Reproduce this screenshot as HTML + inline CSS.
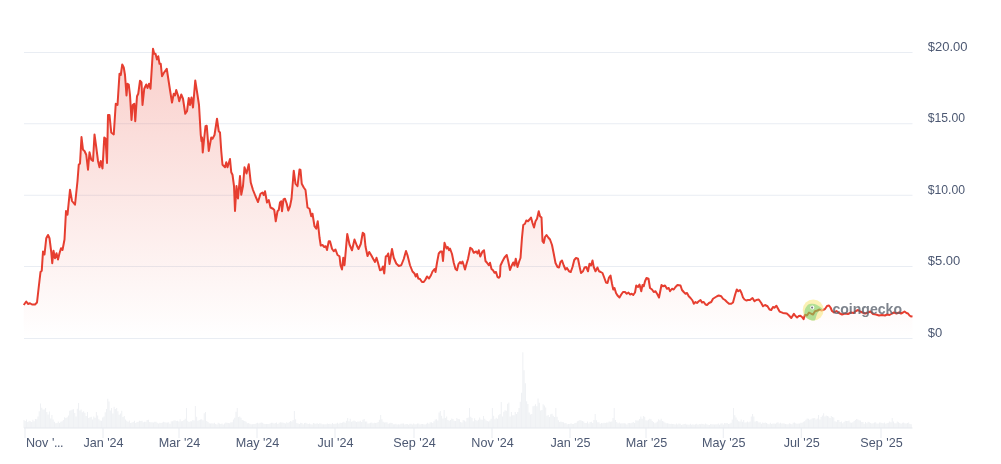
<!DOCTYPE html>
<html lang="en"><head><meta charset="utf-8"><title>Price chart</title>
<style>
html,body{margin:0;padding:0;background:#fff;}
body{width:1001px;height:464px;overflow:hidden;font-family:"Liberation Sans",sans-serif;}
svg{display:block}
.yl,.xl{font-family:"Liberation Sans",sans-serif;font-size:12.6px;fill:#4c5872;}
.yl{font-size:13px;}
</style></head><body>
<svg width="1001" height="464" viewBox="0 0 1001 464">
<defs><linearGradient id="g" x1="0" y1="48" x2="0" y2="338.5" gradientUnits="userSpaceOnUse"><stop offset="0" stop-color="#e8402f" stop-opacity="0.25"/><stop offset="1" stop-color="#e8402f" stop-opacity="0.0"/></linearGradient></defs>
<rect width="1001" height="464" fill="#ffffff"/>
<path d="M24 52.5H912.5" stroke="#e9edf3" stroke-width="1" fill="none"/>
<path d="M24 123.75H912.5" stroke="#e9edf3" stroke-width="1" fill="none"/>
<path d="M24 195.25H912.5" stroke="#e9edf3" stroke-width="1" fill="none"/>
<path d="M24 266.5H912.5" stroke="#e9edf3" stroke-width="1" fill="none"/>
<path d="M24 338.5H912.5" stroke="#e9edf3" stroke-width="1" fill="none"/>
<path d="M24.00 428v-7.9M25.27 428v-6.9M26.54 428v-8.5M27.81 428v-6.1M29.08 428v-7.3M30.35 428v-6.7M31.62 428v-6.1M32.89 428v-8.2M34.15 428v-6.8M35.42 428v-8.9M36.69 428v-8.8M37.96 428v-11.4M39.23 428v-16.8M40.50 428v-24.5M41.77 428v-20.3M43.04 428v-18.6M44.31 428v-18.6M45.58 428v-20.1M46.85 428v-15.9M48.12 428v-13.6M49.39 428v-16.4M50.66 428v-9.5M51.92 428v-13.1M53.19 428v-8.4M54.46 428v-6.3M55.73 428v-4.8M57.00 428v-5.0M58.27 428v-6.4M59.54 428v-5.0M60.81 428v-6.2M62.08 428v-6.7M63.35 428v-7.9M64.62 428v-10.7M65.89 428v-9.9M67.16 428v-10.7M68.43 428v-12.6M69.69 428v-17.2M70.96 428v-17.8M72.23 428v-18.6M73.50 428v-18.7M74.77 428v-14.9M76.04 428v-11.6M77.31 428v-19.2M78.58 428v-25.0M79.85 428v-17.6M81.12 428v-18.6M82.39 428v-15.7M83.66 428v-16.8M84.93 428v-15.3M86.20 428v-11.9M87.46 428v-16.0M88.73 428v-9.9M90.00 428v-10.7M91.27 428v-11.3M92.54 428v-8.4M93.81 428v-11.6M95.08 428v-10.2M96.35 428v-16.0M97.62 428v-12.5M98.89 428v-8.7M100.16 428v-7.4M101.43 428v-7.2M102.70 428v-10.4M103.97 428v-11.6M105.23 428v-15.8M106.50 428v-18.9M107.77 428v-29.2M109.04 428v-26.6M110.31 428v-17.6M111.58 428v-19.9M112.85 428v-14.6M114.12 428v-21.2M115.39 428v-19.0M116.66 428v-20.1M117.93 428v-16.8M119.20 428v-13.3M120.47 428v-14.5M121.74 428v-17.3M123.00 428v-11.0M124.27 428v-12.1M125.54 428v-8.6M126.81 428v-7.2M128.08 428v-6.2M129.35 428v-7.5M130.62 428v-5.1M131.89 428v-5.5M133.16 428v-5.9M134.43 428v-7.2M135.70 428v-5.0M136.97 428v-6.0M138.24 428v-6.3M139.50 428v-7.2M140.77 428v-7.1M142.04 428v-7.3M143.31 428v-5.8M144.58 428v-6.3M145.85 428v-6.2M147.12 428v-7.9M148.39 428v-8.3M149.66 428v-5.9M150.93 428v-5.8M152.20 428v-5.8M153.47 428v-5.6M154.74 428v-6.2M156.01 428v-6.2M157.27 428v-5.2M158.54 428v-4.4M159.81 428v-5.2M161.08 428v-5.0M162.35 428v-5.5M163.62 428v-6.3M164.89 428v-5.8M166.16 428v-5.4M167.43 428v-5.6M168.70 428v-5.7M169.97 428v-4.3M171.24 428v-6.7M172.51 428v-6.8M173.78 428v-7.6M175.04 428v-7.8M176.31 428v-6.9M177.58 428v-7.3M178.85 428v-6.5M180.12 428v-8.8M181.39 428v-6.8M182.66 428v-7.1M183.93 428v-7.9M185.20 428v-9.3M186.47 428v-20.0M187.74 428v-7.2M189.01 428v-6.1M190.28 428v-6.8M191.55 428v-6.7M192.81 428v-7.9M194.08 428v-7.4M195.35 428v-22.0M196.62 428v-11.2M197.89 428v-7.3M199.16 428v-7.9M200.43 428v-8.4M201.70 428v-8.7M202.97 428v-7.7M204.24 428v-14.7M205.51 428v-16.0M206.78 428v-7.0M208.05 428v-5.9M209.32 428v-4.7M210.58 428v-4.5M211.85 428v-4.8M213.12 428v-4.4M214.39 428v-5.2M215.66 428v-3.9M216.93 428v-3.6M218.20 428v-5.3M219.47 428v-4.6M220.74 428v-3.9M222.01 428v-4.6M223.28 428v-3.6M224.55 428v-4.6M225.82 428v-5.4M227.09 428v-5.2M228.35 428v-5.1M229.62 428v-4.8M230.89 428v-5.7M232.16 428v-5.8M233.43 428v-8.4M234.70 428v-10.3M235.97 428v-16.3M237.24 428v-20.0M238.51 428v-11.0M239.78 428v-11.5M241.05 428v-10.2M242.32 428v-8.0M243.59 428v-7.4M244.86 428v-6.9M246.12 428v-6.3M247.39 428v-4.7M248.66 428v-4.9M249.93 428v-4.3M251.20 428v-3.7M252.47 428v-3.7M253.74 428v-4.1M255.01 428v-4.1M256.28 428v-4.8M257.55 428v-5.3M258.82 428v-4.4M260.09 428v-5.3M261.36 428v-5.4M262.63 428v-5.3M263.89 428v-4.3M265.16 428v-4.0M266.43 428v-4.0M267.70 428v-4.0M268.97 428v-4.0M270.24 428v-4.7M271.51 428v-5.3M272.78 428v-5.2M274.05 428v-4.6M275.32 428v-5.0M276.59 428v-5.4M277.86 428v-4.0M279.13 428v-5.2M280.40 428v-5.8M281.66 428v-5.6M282.93 428v-5.6M284.20 428v-5.0M285.47 428v-4.4M286.74 428v-5.8M288.01 428v-4.9M289.28 428v-6.0M290.55 428v-7.0M291.82 428v-6.5M293.09 428v-8.1M294.36 428v-17.0M295.63 428v-8.7M296.90 428v-5.0M298.17 428v-4.4M299.43 428v-4.1M300.70 428v-5.2M301.97 428v-5.0M303.24 428v-3.8M304.51 428v-5.0M305.78 428v-5.2M307.05 428v-4.6M308.32 428v-4.1M309.59 428v-4.4M310.86 428v-3.7M312.13 428v-3.4M313.40 428v-5.0M314.67 428v-4.4M315.94 428v-4.2M317.20 428v-4.8M318.47 428v-4.0M319.74 428v-4.7M321.01 428v-4.6M322.28 428v-3.7M323.55 428v-3.8M324.82 428v-3.8M326.09 428v-3.8M327.36 428v-4.4M328.63 428v-3.9M329.90 428v-4.2M331.17 428v-3.7M332.44 428v-5.0M333.71 428v-4.1M334.97 428v-4.3M336.24 428v-4.6M337.51 428v-5.2M338.78 428v-4.3M340.05 428v-5.3M341.32 428v-5.0M342.59 428v-5.6M343.86 428v-6.2M345.13 428v-5.2M346.40 428v-7.3M347.67 428v-10.0M348.94 428v-6.8M350.21 428v-9.2M351.48 428v-6.2M352.74 428v-6.8M354.01 428v-7.5M355.28 428v-6.8M356.55 428v-6.0M357.82 428v-6.4M359.09 428v-6.4M360.36 428v-7.2M361.63 428v-5.9M362.90 428v-8.2M364.17 428v-9.0M365.44 428v-6.4M366.71 428v-6.5M367.98 428v-4.5M369.25 428v-4.7M370.52 428v-5.2M371.78 428v-5.6M373.05 428v-4.8M374.32 428v-5.3M375.59 428v-5.1M376.86 428v-5.3M378.13 428v-6.1M379.40 428v-8.2M380.67 428v-13.0M381.94 428v-8.7M383.21 428v-6.3M384.48 428v-5.6M385.75 428v-5.8M387.02 428v-5.7M388.29 428v-4.2M389.55 428v-4.7M390.82 428v-5.3M392.09 428v-5.0M393.36 428v-3.7M394.63 428v-3.7M395.90 428v-4.2M397.17 428v-3.5M398.44 428v-3.7M399.71 428v-3.4M400.98 428v-4.3M402.25 428v-4.4M403.52 428v-4.5M404.79 428v-3.4M406.06 428v-4.1M407.32 428v-4.0M408.59 428v-3.2M409.86 428v-4.2M411.13 428v-4.3M412.40 428v-3.4M413.67 428v-4.4M414.94 428v-3.7M416.21 428v-3.8M417.48 428v-4.6M418.75 428v-4.4M420.02 428v-3.4M421.29 428v-3.9M422.56 428v-4.0M423.83 428v-3.8M425.09 428v-3.6M426.36 428v-4.2M427.63 428v-5.3M428.90 428v-4.2M430.17 428v-5.7M431.44 428v-5.8M432.71 428v-5.1M433.98 428v-6.7M435.25 428v-8.4M436.52 428v-8.7M437.79 428v-7.4M439.06 428v-15.5M440.33 428v-17.0M441.60 428v-12.2M442.86 428v-9.5M444.13 428v-18.0M445.40 428v-10.0M446.67 428v-11.5M447.94 428v-8.1M449.21 428v-7.2M450.48 428v-8.0M451.75 428v-9.4M453.02 428v-9.1M454.29 428v-7.2M455.56 428v-6.9M456.83 428v-10.1M458.10 428v-8.9M459.37 428v-8.8M460.63 428v-6.1M461.90 428v-5.6M463.17 428v-7.9M464.44 428v-7.4M465.71 428v-6.4M466.98 428v-10.1M468.25 428v-10.4M469.52 428v-20.0M470.79 428v-11.2M472.06 428v-10.1M473.33 428v-6.7M474.60 428v-9.7M475.87 428v-7.9M477.14 428v-7.3M478.40 428v-8.2M479.67 428v-10.5M480.94 428v-8.4M482.21 428v-8.3M483.48 428v-12.0M484.75 428v-9.2M486.02 428v-7.7M487.29 428v-7.1M488.56 428v-6.4M489.83 428v-7.6M491.10 428v-9.3M492.37 428v-20.0M493.64 428v-12.3M494.91 428v-8.8M496.17 428v-10.3M497.44 428v-9.2M498.71 428v-12.8M499.98 428v-14.1M501.25 428v-26.0M502.52 428v-11.4M503.79 428v-16.2M505.06 428v-17.7M506.33 428v-17.2M507.60 428v-24.3M508.87 428v-25.6M510.14 428v-11.5M511.41 428v-16.0M512.68 428v-12.8M513.94 428v-12.7M515.21 428v-16.0M516.48 428v-14.0M517.75 428v-15.9M519.02 428v-20.0M520.29 428v-26.3M521.56 428v-35.2M522.83 428v-75.8M524.10 428v-57.8M525.37 428v-44.8M526.64 428v-26.8M527.91 428v-24.0M529.18 428v-15.5M530.45 428v-13.4M531.71 428v-14.0M532.98 428v-21.7M534.25 428v-22.3M535.52 428v-23.7M536.79 428v-21.7M538.06 428v-29.4M539.33 428v-25.3M540.60 428v-17.4M541.87 428v-17.9M543.14 428v-23.7M544.41 428v-22.6M545.68 428v-20.5M546.95 428v-12.2M548.22 428v-13.0M549.48 428v-10.9M550.75 428v-13.8M552.02 428v-14.2M553.29 428v-12.3M554.56 428v-11.0M555.83 428v-20.0M557.10 428v-11.2M558.37 428v-7.8M559.64 428v-5.9M560.91 428v-6.5M562.18 428v-6.0M563.45 428v-5.8M564.72 428v-4.7M565.99 428v-5.1M567.25 428v-3.8M568.52 428v-4.1M569.79 428v-3.9M571.06 428v-4.7M572.33 428v-4.1M573.60 428v-4.1M574.87 428v-4.9M576.14 428v-5.2M577.41 428v-6.8M578.68 428v-7.2M579.95 428v-8.0M581.22 428v-7.5M582.49 428v-6.9M583.76 428v-6.4M585.02 428v-5.1M586.29 428v-4.9M587.56 428v-6.4M588.83 428v-4.5M590.10 428v-5.9M591.37 428v-6.3M592.64 428v-5.1M593.91 428v-8.0M595.18 428v-14.0M596.45 428v-7.8M597.72 428v-5.8M598.99 428v-5.8M600.26 428v-4.2M601.53 428v-4.9M602.79 428v-4.7M604.06 428v-5.2M605.33 428v-5.1M606.60 428v-5.5M607.87 428v-5.4M609.14 428v-6.4M610.41 428v-6.2M611.68 428v-6.6M612.95 428v-10.1M614.22 428v-20.0M615.49 428v-8.0M616.76 428v-6.1M618.03 428v-4.7M619.30 428v-5.6M620.56 428v-4.6M621.83 428v-4.7M623.10 428v-4.7M624.37 428v-4.8M625.64 428v-4.5M626.91 428v-3.6M628.18 428v-5.0M629.45 428v-4.9M630.72 428v-4.7M631.99 428v-5.2M633.26 428v-6.0M634.53 428v-4.9M635.80 428v-7.8M637.07 428v-7.4M638.33 428v-7.6M639.60 428v-8.9M640.87 428v-11.5M642.14 428v-9.3M643.41 428v-11.9M644.68 428v-11.3M645.95 428v-7.8M647.22 428v-7.6M648.49 428v-8.2M649.76 428v-9.3M651.03 428v-8.7M652.30 428v-7.1M653.57 428v-6.0M654.84 428v-4.7M656.10 428v-5.5M657.37 428v-6.4M658.64 428v-8.8M659.91 428v-7.8M661.18 428v-9.2M662.45 428v-7.1M663.72 428v-6.6M664.99 428v-5.5M666.26 428v-4.8M667.53 428v-4.7M668.80 428v-4.6M670.07 428v-3.9M671.34 428v-4.2M672.61 428v-4.1M673.87 428v-4.0M675.14 428v-3.4M676.41 428v-4.5M677.68 428v-3.4M678.95 428v-4.4M680.22 428v-4.3M681.49 428v-3.0M682.76 428v-3.6M684.03 428v-4.1M685.30 428v-4.3M686.57 428v-3.6M687.84 428v-3.4M689.11 428v-3.3M690.38 428v-4.3M691.64 428v-3.3M692.91 428v-3.8M694.18 428v-3.2M695.45 428v-3.7M696.72 428v-4.3M697.99 428v-3.2M699.26 428v-4.1M700.53 428v-3.7M701.80 428v-4.2M703.07 428v-4.0M704.34 428v-3.4M705.61 428v-4.4M706.88 428v-3.8M708.15 428v-3.2M709.41 428v-3.1M710.68 428v-3.9M711.95 428v-3.8M713.22 428v-3.7M714.49 428v-3.4M715.76 428v-3.8M717.03 428v-3.7M718.30 428v-4.6M719.57 428v-3.3M720.84 428v-4.5M722.11 428v-4.7M723.38 428v-3.6M724.65 428v-5.0M725.92 428v-4.7M727.18 428v-5.1M728.45 428v-4.1M729.72 428v-4.3M730.99 428v-5.3M732.26 428v-8.6M733.53 428v-20.0M734.80 428v-12.8M736.07 428v-10.6M737.34 428v-8.3M738.61 428v-6.8M739.88 428v-6.4M741.15 428v-8.6M742.42 428v-6.3M743.69 428v-7.9M744.95 428v-5.5M746.22 428v-5.7M747.49 428v-6.6M748.76 428v-5.8M750.03 428v-6.6M751.30 428v-11.5M752.57 428v-14.0M753.84 428v-11.5M755.11 428v-6.5M756.38 428v-7.0M757.65 428v-6.8M758.92 428v-5.6M760.19 428v-5.8M761.46 428v-4.2M762.72 428v-5.6M763.99 428v-4.9M765.26 428v-5.4M766.53 428v-5.1M767.80 428v-4.3M769.07 428v-3.7M770.34 428v-5.3M771.61 428v-3.9M772.88 428v-4.6M774.15 428v-4.4M775.42 428v-4.3M776.69 428v-5.2M777.96 428v-5.8M779.23 428v-4.4M780.49 428v-5.2M781.76 428v-4.4M783.03 428v-4.8M784.30 428v-4.4M785.57 428v-3.9M786.84 428v-3.8M788.11 428v-3.8M789.38 428v-4.8M790.65 428v-4.2M791.92 428v-3.8M793.19 428v-5.2M794.46 428v-5.6M795.73 428v-4.7M797.00 428v-4.2M798.26 428v-4.5M799.53 428v-4.4M800.80 428v-5.3M802.07 428v-5.2M803.34 428v-6.2M804.61 428v-6.8M805.88 428v-8.2M807.15 428v-9.6M808.42 428v-9.3M809.69 428v-8.2M810.96 428v-8.7M812.23 428v-9.8M813.50 428v-9.7M814.77 428v-10.1M816.03 428v-8.6M817.30 428v-9.6M818.57 428v-12.9M819.84 428v-8.4M821.11 428v-11.0M822.38 428v-12.5M823.65 428v-14.8M824.92 428v-11.4M826.19 428v-12.4M827.46 428v-12.0M828.73 428v-11.4M830.00 428v-10.0M831.27 428v-12.0M832.54 428v-11.0M833.80 428v-10.6M835.07 428v-6.7M836.34 428v-6.2M837.61 428v-8.0M838.88 428v-7.9M840.15 428v-6.1M841.42 428v-6.4M842.69 428v-4.8M843.96 428v-5.9M845.23 428v-7.3M846.50 428v-7.0M847.77 428v-7.1M849.04 428v-7.4M850.31 428v-5.5M851.57 428v-5.3M852.84 428v-5.7M854.11 428v-7.1M855.38 428v-7.9M856.65 428v-9.0M857.92 428v-8.6M859.19 428v-7.8M860.46 428v-7.6M861.73 428v-6.1M863.00 428v-5.9M864.27 428v-4.3M865.54 428v-6.0M866.81 428v-4.7M868.08 428v-6.3M869.34 428v-5.7M870.61 428v-4.9M871.88 428v-4.5M873.15 428v-4.8M874.42 428v-5.6M875.69 428v-5.8M876.96 428v-4.5M878.23 428v-4.4M879.50 428v-5.4M880.77 428v-5.5M882.04 428v-5.1M883.31 428v-4.7M884.58 428v-5.6M885.85 428v-4.2M887.11 428v-4.9M888.38 428v-5.2M889.65 428v-6.4M890.92 428v-5.7M892.19 428v-10.0M893.46 428v-6.4M894.73 428v-4.7M896.00 428v-4.8M897.27 428v-6.4M898.54 428v-5.8M899.81 428v-4.9M901.08 428v-4.2M902.35 428v-5.2M903.62 428v-5.4M904.88 428v-4.8M906.15 428v-4.4M907.42 428v-5.1M908.69 428v-5.5M909.96 428v-4.1M911.23 428v-3.7" stroke="#eff1f4" stroke-width="1.05" fill="none"/>
<path d="M24 428H912.5" stroke="#e6e9ee" stroke-width="1" fill="none"/>
<path d="M25 428V438" stroke="#e9ecf1" stroke-width="1" fill="none"/>
<path d="M103 428V438" stroke="#e9ecf1" stroke-width="1" fill="none"/>
<path d="M179 428V438" stroke="#e9ecf1" stroke-width="1" fill="none"/>
<path d="M257 428V438" stroke="#e9ecf1" stroke-width="1" fill="none"/>
<path d="M335 428V438" stroke="#e9ecf1" stroke-width="1" fill="none"/>
<path d="M414 428V438" stroke="#e9ecf1" stroke-width="1" fill="none"/>
<path d="M492 428V438" stroke="#e9ecf1" stroke-width="1" fill="none"/>
<path d="M570 428V438" stroke="#e9ecf1" stroke-width="1" fill="none"/>
<path d="M646 428V438" stroke="#e9ecf1" stroke-width="1" fill="none"/>
<path d="M723.25 428V438" stroke="#e9ecf1" stroke-width="1" fill="none"/>
<path d="M801.25 428V438" stroke="#e9ecf1" stroke-width="1" fill="none"/>
<path d="M881 428V438" stroke="#e9ecf1" stroke-width="1" fill="none"/>
<path d="M23.75 305.00 L26.25 301.50 L28.00 304.00 L30.00 303.25 L32.00 304.50 L35.00 304.50 L37.00 302.50 L38.75 287.00 L40.50 272.00 L41.75 270.75 L43.00 251.50 L44.50 254.50 L46.25 238.25 L48.00 235.00 L49.50 238.25 L51.25 252.00 L52.25 263.25 L53.50 250.75 L55.00 258.25 L56.50 253.25 L58.00 259.50 L59.50 253.25 L61.00 248.25 L62.50 250.00 L64.50 239.50 L66.00 211.00 L67.50 214.75 L70.00 189.75 L72.00 201.00 L75.00 204.75 L77.50 181.00 L78.75 164.75 L80.00 163.50 L81.50 137.00 L83.00 149.75 L84.50 151.00 L86.25 154.75 L88.00 169.75 L89.50 152.25 L91.25 159.75 L93.00 161.00 L94.50 134.50 L96.25 147.25 L98.00 161.00 L99.50 167.25 L100.75 161.00 L102.50 168.50 L104.25 137.50 L105.50 138.50 L107.00 163.00 L108.00 115.00 L109.50 115.00 L111.25 132.50 L113.75 134.50 L115.75 103.75 L117.50 105.00 L119.50 73.75 L120.75 75.00 L122.25 64.50 L123.75 67.50 L125.00 75.00 L126.50 95.50 L127.50 83.75 L128.75 84.50 L130.00 95.00 L131.50 120.00 L132.75 105.00 L134.25 103.75 L135.25 121.25 L137.00 96.25 L138.25 93.75 L140.00 80.75 L141.50 82.50 L142.50 105.00 L144.25 88.75 L146.25 84.50 L147.50 88.00 L149.00 83.75 L150.50 88.75 L153.00 48.75 L154.25 53.75 L155.50 53.75 L157.00 59.50 L158.25 56.25 L159.50 63.75 L160.75 63.75 L162.00 76.25 L163.75 73.00 L166.75 68.75 L170.00 90.00 L172.00 102.50 L173.75 93.75 L175.00 95.50 L176.25 90.00 L178.00 95.50 L179.25 101.25 L181.25 94.50 L183.00 98.75 L185.25 113.75 L187.00 111.25 L188.75 98.00 L190.00 105.00 L191.50 97.50 L193.00 107.50 L195.25 80.50 L197.50 95.00 L199.00 105.00 L200.75 135.00 L201.50 141.25 L202.00 137.50 L202.75 152.50 L204.00 140.00 L205.50 126.25 L206.75 125.75 L208.75 151.00 L211.25 137.50 L212.50 138.75 L214.50 135.00 L217.00 118.75 L218.75 131.25 L220.00 132.50 L221.25 151.00 L222.50 164.75 L225.00 167.25 L226.25 162.25 L227.50 167.25 L230.00 159.00 L231.25 172.25 L232.50 174.75 L234.00 186.00 L235.00 211.00 L236.50 186.00 L238.00 198.50 L240.00 176.00 L241.25 194.75 L243.00 186.00 L244.50 167.25 L246.50 173.50 L248.75 164.25 L250.75 182.50 L253.00 190.00 L255.50 196.25 L258.00 202.00 L260.50 193.75 L262.50 192.50 L263.75 195.00 L265.00 191.25 L267.00 202.50 L268.75 200.00 L270.50 207.50 L273.00 208.75 L274.25 210.00 L275.75 221.25 L277.50 211.25 L278.75 210.00 L280.00 202.50 L281.25 201.25 L282.00 211.25 L283.50 199.50 L285.00 198.75 L286.75 203.75 L288.25 210.50 L290.00 206.25 L291.50 198.75 L293.75 170.75 L295.50 183.75 L297.50 186.25 L299.50 169.50 L300.50 170.00 L301.75 183.75 L303.75 187.50 L305.50 190.00 L307.50 207.50 L309.50 208.75 L311.25 216.25 L312.50 213.75 L314.50 226.25 L316.25 228.75 L317.75 221.25 L319.50 237.50 L320.75 245.50 L322.50 245.00 L324.25 247.00 L325.75 246.25 L327.00 250.00 L328.75 241.25 L330.00 241.25 L332.00 248.75 L333.75 251.25 L335.50 249.50 L337.50 255.00 L339.50 256.25 L340.50 265.25 L342.00 269.50 L343.25 257.75 L344.50 265.25 L347.25 234.00 L349.50 244.50 L352.00 250.25 L354.50 239.50 L357.00 246.00 L358.50 249.00 L360.75 244.00 L362.75 232.75 L364.25 234.00 L365.50 246.50 L367.50 256.00 L369.25 252.00 L371.25 255.25 L373.25 259.00 L375.00 262.00 L376.50 257.75 L378.00 262.75 L380.00 270.25 L381.75 269.50 L383.00 266.50 L384.25 273.50 L385.75 256.50 L387.00 256.00 L388.25 253.50 L389.50 264.00 L392.00 249.00 L393.75 257.75 L396.25 263.50 L398.75 266.00 L401.25 265.25 L403.75 259.00 L406.00 251.00 L407.50 255.25 L410.00 265.25 L412.50 271.50 L414.50 273.50 L415.75 276.50 L417.00 274.00 L418.25 278.50 L420.00 279.00 L422.00 282.00 L423.75 282.00 L425.50 279.50 L427.00 276.50 L429.00 278.50 L431.00 275.25 L432.50 271.50 L434.50 269.00 L435.50 272.00 L437.00 262.75 L438.75 253.50 L440.50 251.50 L442.00 251.50 L443.00 261.00 L444.50 242.75 L446.50 248.50 L447.75 247.00 L449.00 250.25 L450.00 248.50 L452.00 254.00 L453.75 262.75 L455.50 269.00 L457.00 270.25 L458.50 264.00 L460.00 262.00 L461.25 263.50 L462.50 261.50 L463.75 265.25 L465.00 269.50 L466.50 264.00 L468.00 259.00 L470.25 247.75 L472.00 249.00 L473.75 252.75 L476.25 251.50 L477.50 253.50 L478.75 250.25 L480.25 256.50 L482.50 251.50 L484.00 250.25 L485.50 261.00 L487.00 262.75 L488.75 265.25 L490.00 262.75 L491.50 269.00 L493.00 270.25 L494.50 272.75 L496.00 272.00 L497.50 277.00 L499.00 277.75 L500.00 276.25 L500.50 265.50 L502.50 261.25 L504.50 257.50 L506.75 255.00 L508.25 261.25 L510.00 270.00 L511.75 265.50 L513.25 262.50 L514.50 265.50 L515.75 258.75 L517.50 267.00 L519.25 261.25 L520.50 258.00 L522.00 237.50 L523.25 225.00 L525.00 223.75 L526.25 220.50 L528.00 221.25 L529.50 219.50 L531.00 217.50 L532.50 223.00 L534.00 227.50 L535.50 221.25 L537.00 218.75 L538.75 211.25 L540.00 216.25 L541.50 217.50 L542.50 241.25 L543.75 243.00 L545.00 237.00 L546.50 235.00 L548.25 237.50 L550.00 239.50 L552.00 245.00 L553.75 253.75 L555.50 263.00 L557.50 267.00 L559.00 267.50 L560.50 262.00 L562.00 260.50 L563.75 265.50 L565.50 269.50 L567.00 268.00 L569.00 271.25 L570.75 272.00 L572.50 267.00 L574.25 260.00 L576.00 258.00 L578.00 258.75 L579.50 266.25 L581.00 273.00 L583.00 271.25 L584.50 267.50 L586.25 267.00 L588.00 271.25 L589.50 263.75 L591.00 265.50 L592.50 260.50 L593.75 267.00 L595.50 271.25 L597.50 267.50 L599.00 271.25 L600.75 272.00 L602.50 273.00 L604.00 277.00 L606.00 282.50 L607.50 283.00 L609.00 277.50 L610.50 275.50 L612.00 283.75 L613.25 289.50 L614.50 288.00 L616.00 293.00 L617.50 295.50 L619.50 297.50 L621.25 294.50 L623.00 292.00 L625.00 292.00 L626.75 293.75 L628.50 292.50 L630.00 294.50 L631.75 293.75 L633.25 295.00 L635.00 292.50 L636.25 285.50 L638.00 287.00 L639.50 284.50 L641.25 291.25 L642.50 285.00 L643.75 286.25 L645.00 281.25 L646.50 278.00 L648.50 278.75 L650.00 288.00 L652.00 289.50 L653.75 292.00 L655.50 291.25 L657.50 294.50 L659.00 297.50 L660.25 291.25 L661.50 285.00 L663.00 286.25 L665.00 285.50 L667.00 288.75 L668.75 288.00 L670.00 291.25 L672.00 288.75 L673.75 289.50 L675.50 287.00 L677.50 285.00 L680.50 285.50 L682.00 290.00 L683.75 292.00 L685.50 293.75 L687.00 293.00 L688.75 296.25 L690.50 298.00 L692.50 300.50 L693.75 303.75 L695.50 302.00 L697.00 303.00 L698.75 301.25 L700.50 300.00 L702.00 302.50 L703.75 302.00 L705.50 304.50 L707.00 305.00 L709.00 303.00 L711.25 302.00 L713.00 298.75 L715.00 297.50 L717.00 296.25 L718.75 295.50 L721.25 296.25 L723.00 298.75 L725.00 300.00 L727.00 302.00 L729.00 303.75 L731.25 303.75 L733.00 302.50 L735.00 295.00 L736.75 289.50 L738.25 291.25 L740.00 290.00 L741.50 293.00 L743.00 297.50 L744.50 299.50 L746.25 300.50 L748.00 300.00 L750.00 300.00 L752.50 298.00 L754.50 301.25 L756.25 300.00 L758.75 299.50 L761.25 303.00 L763.00 306.25 L765.00 305.00 L767.50 306.25 L769.50 309.50 L771.25 310.00 L773.00 307.00 L774.40 307.70 L776.40 305.70 L779.60 311.60 L782.90 312.90 L786.80 313.50 L789.00 315.50 L791.30 318.00 L793.90 313.90 L795.50 316.00 L797.10 317.40 L798.80 316.00 L800.40 315.70 L802.00 317.00 L803.60 319.10 L804.90 314.80 L807.00 315.50 L809.00 312.50 L811.25 313.75 L813.00 314.50 L815.00 311.25 L817.50 310.50 L819.50 309.50 L821.25 310.50 L823.00 310.00 L825.00 309.00 L827.00 306.00 L829.00 305.50 L830.50 307.50 L832.00 311.00 L834.00 312.50 L836.50 311.00 L839.00 313.00 L842.00 314.50 L845.00 313.50 L848.00 314.00 L851.00 312.50 L853.50 313.00 L856.00 311.00 L858.00 310.00 L860.00 311.50 L862.50 312.50 L865.00 313.50 L868.00 312.50 L870.50 311.50 L873.00 314.00 L876.00 314.50 L879.00 315.50 L882.00 315.00 L885.00 315.50 L887.00 314.50 L889.50 315.00 L892.00 313.50 L894.00 312.50 L896.50 313.50 L899.00 312.50 L901.00 313.50 L903.00 312.50 L904.50 311.50 L906.50 313.00 L908.00 313.50 L909.50 315.50 L911.00 316.50 L912.50 316.30 L912.50 338.5 L23.75 338.5 Z" fill="url(#g)" stroke="none"/>
<path d="M23.75 305.00 L26.25 301.50 L28.00 304.00 L30.00 303.25 L32.00 304.50 L35.00 304.50 L37.00 302.50 L38.75 287.00 L40.50 272.00 L41.75 270.75 L43.00 251.50 L44.50 254.50 L46.25 238.25 L48.00 235.00 L49.50 238.25 L51.25 252.00 L52.25 263.25 L53.50 250.75 L55.00 258.25 L56.50 253.25 L58.00 259.50 L59.50 253.25 L61.00 248.25 L62.50 250.00 L64.50 239.50 L66.00 211.00 L67.50 214.75 L70.00 189.75 L72.00 201.00 L75.00 204.75 L77.50 181.00 L78.75 164.75 L80.00 163.50 L81.50 137.00 L83.00 149.75 L84.50 151.00 L86.25 154.75 L88.00 169.75 L89.50 152.25 L91.25 159.75 L93.00 161.00 L94.50 134.50 L96.25 147.25 L98.00 161.00 L99.50 167.25 L100.75 161.00 L102.50 168.50 L104.25 137.50 L105.50 138.50 L107.00 163.00 L108.00 115.00 L109.50 115.00 L111.25 132.50 L113.75 134.50 L115.75 103.75 L117.50 105.00 L119.50 73.75 L120.75 75.00 L122.25 64.50 L123.75 67.50 L125.00 75.00 L126.50 95.50 L127.50 83.75 L128.75 84.50 L130.00 95.00 L131.50 120.00 L132.75 105.00 L134.25 103.75 L135.25 121.25 L137.00 96.25 L138.25 93.75 L140.00 80.75 L141.50 82.50 L142.50 105.00 L144.25 88.75 L146.25 84.50 L147.50 88.00 L149.00 83.75 L150.50 88.75 L153.00 48.75 L154.25 53.75 L155.50 53.75 L157.00 59.50 L158.25 56.25 L159.50 63.75 L160.75 63.75 L162.00 76.25 L163.75 73.00 L166.75 68.75 L170.00 90.00 L172.00 102.50 L173.75 93.75 L175.00 95.50 L176.25 90.00 L178.00 95.50 L179.25 101.25 L181.25 94.50 L183.00 98.75 L185.25 113.75 L187.00 111.25 L188.75 98.00 L190.00 105.00 L191.50 97.50 L193.00 107.50 L195.25 80.50 L197.50 95.00 L199.00 105.00 L200.75 135.00 L201.50 141.25 L202.00 137.50 L202.75 152.50 L204.00 140.00 L205.50 126.25 L206.75 125.75 L208.75 151.00 L211.25 137.50 L212.50 138.75 L214.50 135.00 L217.00 118.75 L218.75 131.25 L220.00 132.50 L221.25 151.00 L222.50 164.75 L225.00 167.25 L226.25 162.25 L227.50 167.25 L230.00 159.00 L231.25 172.25 L232.50 174.75 L234.00 186.00 L235.00 211.00 L236.50 186.00 L238.00 198.50 L240.00 176.00 L241.25 194.75 L243.00 186.00 L244.50 167.25 L246.50 173.50 L248.75 164.25 L250.75 182.50 L253.00 190.00 L255.50 196.25 L258.00 202.00 L260.50 193.75 L262.50 192.50 L263.75 195.00 L265.00 191.25 L267.00 202.50 L268.75 200.00 L270.50 207.50 L273.00 208.75 L274.25 210.00 L275.75 221.25 L277.50 211.25 L278.75 210.00 L280.00 202.50 L281.25 201.25 L282.00 211.25 L283.50 199.50 L285.00 198.75 L286.75 203.75 L288.25 210.50 L290.00 206.25 L291.50 198.75 L293.75 170.75 L295.50 183.75 L297.50 186.25 L299.50 169.50 L300.50 170.00 L301.75 183.75 L303.75 187.50 L305.50 190.00 L307.50 207.50 L309.50 208.75 L311.25 216.25 L312.50 213.75 L314.50 226.25 L316.25 228.75 L317.75 221.25 L319.50 237.50 L320.75 245.50 L322.50 245.00 L324.25 247.00 L325.75 246.25 L327.00 250.00 L328.75 241.25 L330.00 241.25 L332.00 248.75 L333.75 251.25 L335.50 249.50 L337.50 255.00 L339.50 256.25 L340.50 265.25 L342.00 269.50 L343.25 257.75 L344.50 265.25 L347.25 234.00 L349.50 244.50 L352.00 250.25 L354.50 239.50 L357.00 246.00 L358.50 249.00 L360.75 244.00 L362.75 232.75 L364.25 234.00 L365.50 246.50 L367.50 256.00 L369.25 252.00 L371.25 255.25 L373.25 259.00 L375.00 262.00 L376.50 257.75 L378.00 262.75 L380.00 270.25 L381.75 269.50 L383.00 266.50 L384.25 273.50 L385.75 256.50 L387.00 256.00 L388.25 253.50 L389.50 264.00 L392.00 249.00 L393.75 257.75 L396.25 263.50 L398.75 266.00 L401.25 265.25 L403.75 259.00 L406.00 251.00 L407.50 255.25 L410.00 265.25 L412.50 271.50 L414.50 273.50 L415.75 276.50 L417.00 274.00 L418.25 278.50 L420.00 279.00 L422.00 282.00 L423.75 282.00 L425.50 279.50 L427.00 276.50 L429.00 278.50 L431.00 275.25 L432.50 271.50 L434.50 269.00 L435.50 272.00 L437.00 262.75 L438.75 253.50 L440.50 251.50 L442.00 251.50 L443.00 261.00 L444.50 242.75 L446.50 248.50 L447.75 247.00 L449.00 250.25 L450.00 248.50 L452.00 254.00 L453.75 262.75 L455.50 269.00 L457.00 270.25 L458.50 264.00 L460.00 262.00 L461.25 263.50 L462.50 261.50 L463.75 265.25 L465.00 269.50 L466.50 264.00 L468.00 259.00 L470.25 247.75 L472.00 249.00 L473.75 252.75 L476.25 251.50 L477.50 253.50 L478.75 250.25 L480.25 256.50 L482.50 251.50 L484.00 250.25 L485.50 261.00 L487.00 262.75 L488.75 265.25 L490.00 262.75 L491.50 269.00 L493.00 270.25 L494.50 272.75 L496.00 272.00 L497.50 277.00 L499.00 277.75 L500.00 276.25 L500.50 265.50 L502.50 261.25 L504.50 257.50 L506.75 255.00 L508.25 261.25 L510.00 270.00 L511.75 265.50 L513.25 262.50 L514.50 265.50 L515.75 258.75 L517.50 267.00 L519.25 261.25 L520.50 258.00 L522.00 237.50 L523.25 225.00 L525.00 223.75 L526.25 220.50 L528.00 221.25 L529.50 219.50 L531.00 217.50 L532.50 223.00 L534.00 227.50 L535.50 221.25 L537.00 218.75 L538.75 211.25 L540.00 216.25 L541.50 217.50 L542.50 241.25 L543.75 243.00 L545.00 237.00 L546.50 235.00 L548.25 237.50 L550.00 239.50 L552.00 245.00 L553.75 253.75 L555.50 263.00 L557.50 267.00 L559.00 267.50 L560.50 262.00 L562.00 260.50 L563.75 265.50 L565.50 269.50 L567.00 268.00 L569.00 271.25 L570.75 272.00 L572.50 267.00 L574.25 260.00 L576.00 258.00 L578.00 258.75 L579.50 266.25 L581.00 273.00 L583.00 271.25 L584.50 267.50 L586.25 267.00 L588.00 271.25 L589.50 263.75 L591.00 265.50 L592.50 260.50 L593.75 267.00 L595.50 271.25 L597.50 267.50 L599.00 271.25 L600.75 272.00 L602.50 273.00 L604.00 277.00 L606.00 282.50 L607.50 283.00 L609.00 277.50 L610.50 275.50 L612.00 283.75 L613.25 289.50 L614.50 288.00 L616.00 293.00 L617.50 295.50 L619.50 297.50 L621.25 294.50 L623.00 292.00 L625.00 292.00 L626.75 293.75 L628.50 292.50 L630.00 294.50 L631.75 293.75 L633.25 295.00 L635.00 292.50 L636.25 285.50 L638.00 287.00 L639.50 284.50 L641.25 291.25 L642.50 285.00 L643.75 286.25 L645.00 281.25 L646.50 278.00 L648.50 278.75 L650.00 288.00 L652.00 289.50 L653.75 292.00 L655.50 291.25 L657.50 294.50 L659.00 297.50 L660.25 291.25 L661.50 285.00 L663.00 286.25 L665.00 285.50 L667.00 288.75 L668.75 288.00 L670.00 291.25 L672.00 288.75 L673.75 289.50 L675.50 287.00 L677.50 285.00 L680.50 285.50 L682.00 290.00 L683.75 292.00 L685.50 293.75 L687.00 293.00 L688.75 296.25 L690.50 298.00 L692.50 300.50 L693.75 303.75 L695.50 302.00 L697.00 303.00 L698.75 301.25 L700.50 300.00 L702.00 302.50 L703.75 302.00 L705.50 304.50 L707.00 305.00 L709.00 303.00 L711.25 302.00 L713.00 298.75 L715.00 297.50 L717.00 296.25 L718.75 295.50 L721.25 296.25 L723.00 298.75 L725.00 300.00 L727.00 302.00 L729.00 303.75 L731.25 303.75 L733.00 302.50 L735.00 295.00 L736.75 289.50 L738.25 291.25 L740.00 290.00 L741.50 293.00 L743.00 297.50 L744.50 299.50 L746.25 300.50 L748.00 300.00 L750.00 300.00 L752.50 298.00 L754.50 301.25 L756.25 300.00 L758.75 299.50 L761.25 303.00 L763.00 306.25 L765.00 305.00 L767.50 306.25 L769.50 309.50 L771.25 310.00 L773.00 307.00 L774.40 307.70 L776.40 305.70 L779.60 311.60 L782.90 312.90 L786.80 313.50 L789.00 315.50 L791.30 318.00 L793.90 313.90 L795.50 316.00 L797.10 317.40 L798.80 316.00 L800.40 315.70 L802.00 317.00 L803.60 319.10 L804.90 314.80 L807.00 315.50 L809.00 312.50 L811.25 313.75 L813.00 314.50 L815.00 311.25 L817.50 310.50 L819.50 309.50 L821.25 310.50 L823.00 310.00 L825.00 309.00 L827.00 306.00 L829.00 305.50 L830.50 307.50 L832.00 311.00 L834.00 312.50 L836.50 311.00 L839.00 313.00 L842.00 314.50 L845.00 313.50 L848.00 314.00 L851.00 312.50 L853.50 313.00 L856.00 311.00 L858.00 310.00 L860.00 311.50 L862.50 312.50 L865.00 313.50 L868.00 312.50 L870.50 311.50 L873.00 314.00 L876.00 314.50 L879.00 315.50 L882.00 315.00 L885.00 315.50 L887.00 314.50 L889.50 315.00 L892.00 313.50 L894.00 312.50 L896.50 313.50 L899.00 312.50 L901.00 313.50 L903.00 312.50 L904.50 311.50 L906.50 313.00 L908.00 313.50 L909.50 315.50 L911.00 316.50 L912.50 316.30" fill="none" stroke="#e63e30" stroke-width="2" stroke-linejoin="round" stroke-linecap="butt"/>
<text class="yl" x="927.7" y="51.20">$20.00</text>
<text class="yl" x="927.7" y="122.45" textLength="37.3" lengthAdjust="spacingAndGlyphs">$15.00</text>
<text class="yl" x="927.7" y="193.95" textLength="37.3" lengthAdjust="spacingAndGlyphs">$10.00</text>
<text class="yl" x="927.7" y="265.20">$5.00</text>
<text class="yl" x="927.7" y="337.20">$0</text>
<text class="xl" x="26" y="447.3" text-anchor="start">Nov '<tspan dx="-0.3" letter-spacing="-0.55">...</tspan></text>
<text class="xl" x="103.5" y="447.3" text-anchor="middle">Jan '24</text>
<text class="xl" x="179.5" y="447.3" text-anchor="middle">Mar '24</text>
<text class="xl" x="257.5" y="447.3" text-anchor="middle">May '24</text>
<text class="xl" x="335.5" y="447.3" text-anchor="middle">Jul '24</text>
<text class="xl" x="414.5" y="447.3" text-anchor="middle">Sep '24</text>
<text class="xl" x="492.5" y="447.3" text-anchor="middle">Nov '24</text>
<text class="xl" x="570.5" y="447.3" text-anchor="middle">Jan '25</text>
<text class="xl" x="646.5" y="447.3" text-anchor="middle">Mar '25</text>
<text class="xl" x="723.75" y="447.3" text-anchor="middle">May '25</text>
<text class="xl" x="801.75" y="447.3" text-anchor="middle">Jul '25</text>
<text class="xl" x="881.5" y="447.3" text-anchor="middle">Sep '25</text>
<g opacity="0.62"><circle cx="813.2" cy="310" r="10.5" fill="#f9e988"/><path d="M806.9 305.9C808 304.600 809.500 303.900 811 303.800C813 303.600 815 303.900 816.500 304.800C818.500 305.900 820.500 307.200 822.200 308.600C821 310 819.500 310.800 818.300 312C816.900 313.700 816.300 316 815.800 318C815.600 319 815.200 319.900 814.600 320.400C810.500 321 806.500 318.500 804.600 315.500C803.900 312 804.700 308.500 806.900 305.900Z" fill="#86cc55"/><circle cx="812.300" cy="307.600" r="2" fill="#ffffff"/><circle cx="812.1" cy="307.600" r="1.1" fill="#2b2b2b"/></g>
<text x="832.4" y="314.000" font-family="'Liberation Sans', sans-serif" font-weight="bold" font-size="14.4" fill="#5a616d" fill-opacity="0.78" textLength="69.600" lengthAdjust="spacingAndGlyphs">coingecko</text>
</svg>
</body></html>
